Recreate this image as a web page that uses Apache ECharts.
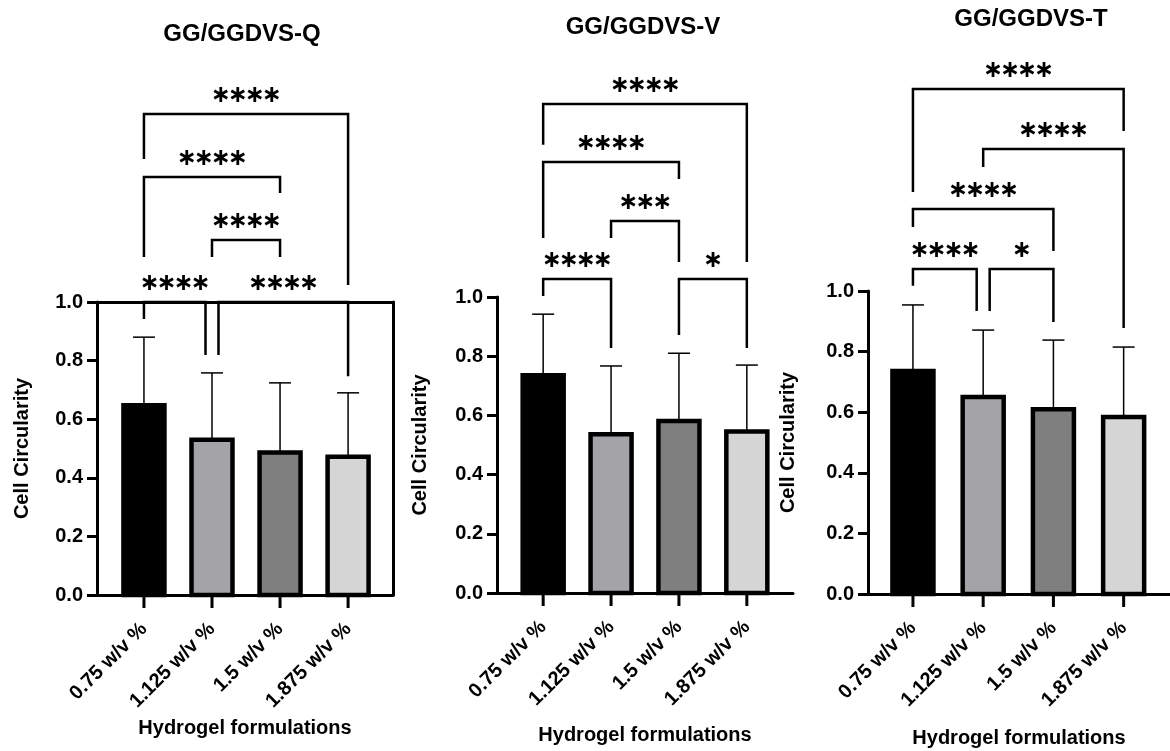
<!DOCTYPE html>
<html><head><meta charset="utf-8">
<script src="https://cdn.jsdelivr.net/npm/echarts@6/dist/echarts.min.js"></script>
<style>html,body{margin:0;padding:0;background:#fff}#c{width:1170px;height:751px}</style>
</head><body><div id="c"></div>
<script>
// ---------- data ----------
const categories = ['0.75 w/v %', '1.125 w/v %', '1.5 w/v %', '1.875 w/v %'];
const panelTitles = ['GG/GGDVS-Q', 'GG/GGDVS-V', 'GG/GGDVS-T'];
const xAxisTitle = 'Hydrogel formulations';
const yAxisTitle = 'Cell Circularity';
const yTicks = [0, 0.2, 0.4, 0.6, 0.8, 1.0];

const meanQ = [0.648, 0.530, 0.486, 0.472];
const sdQ   = [0.232, 0.228, 0.238, 0.218];
const meanV = [0.736, 0.536, 0.581, 0.546];
const sdV   = [0.206, 0.231, 0.229, 0.224];
const meanT = [0.736, 0.650, 0.610, 0.584];
const sdT   = [0.218, 0.221, 0.228, 0.231];

// significance brackets: [fromCat, toCat, level, leftLegEnd, rightLegEnd] (y values)
const bracketsQ = [[0, 3, 1.642, 1.488, 1.058], [0, 2, 1.427, 1.154, 1.372], [1, 2, 1.212, 1.154, 1.154], [0, 1, 1.0, 0.942, 0.819], [1, 3, 1.0, 0.819, 0.747]];
const starsQ = ['****', '****', '****', '****', '****'];
const bracketsV = [[0, 3, 1.652, 1.514, 1.118], [0, 2, 1.456, 1.199, 1.399], [1, 2, 1.257, 1.199, 1.118], [0, 1, 1.061, 1.003, 0.828], [2, 3, 1.061, 0.872, 0.828]];
const starsV = ['****', '****', '***', '****', '*'];
const bracketsT = [[0, 3, 1.667, 1.327, 1.528], [1, 3, 1.469, 1.409, 0.878], [0, 2, 1.271, 1.211, 1.132], [0, 1, 1.073, 1.017, 0.934], [1, 2, 1.073, 0.934, 0.898]];
const starsT = ['****', '****', '****', '****', '*'];

// ---------- layout & style ----------
const FONT = 'Liberation Sans, Arial, sans-serif';
const barColors = ['#000000', '#a4a4a8', '#7f7f7f', '#d5d5d5'];
const panels = [
  { mean: meanQ, sd: sdQ, br: bracketsQ, st: starsQ, left: 97, top: 302, width: 296, height: 293, xMin: -0.69, xMax: 3.66, tx: 242, ty: 34, xGap: 123, yGap: 65 },
  { mean: meanV, sd: sdV, br: bracketsV, st: starsV, left: 497, top: 297, width: 296, height: 296, xMin: -0.68, xMax: 3.68, tx: 643, ty: 27, xGap: 132, yGap: 67 },
  { mean: meanT, sd: sdT, br: bracketsT, st: starsT, left: 868, top: 291, width: 302, height: 303, xMin: -0.64, xMax: 3.66, tx: 1031, ty: 19, xGap: 134, yGap: 70 }
];
const catIdx = categories.map((c, i) => i);

const grids = [], xAxes = [], yAxes = [], series = [], graphics = [];
const AX = { color: '#000', width: 3 };

panels.forEach((p, g) => {
  grids.push({ left: p.left, top: p.top, width: p.width, height: p.height, containLabel: false, outerBoundsMode: 'none' });
  xAxes.push({
    type: 'value', gridIndex: g, min: p.xMin, max: p.xMax,
    splitLine: { show: false },
    axisLine: { show: true, onZero: false, lineStyle: AX },
    axisTick: { show: false },
    axisLabel: {
      customValues: catIdx, rotate: 45, margin: 31, color: '#000',
      fontFamily: FONT, fontWeight: 'bold', fontSize: 20,
      formatter: v => categories[Math.round(v)]
    },
    name: xAxisTitle, nameLocation: 'middle', nameGap: p.xGap,
    nameTextStyle: { color: '#000', fontFamily: FONT, fontWeight: 'bold', fontSize: 20 }
  });
  yAxes.push({
    type: 'value', gridIndex: g, min: 0, max: 1, interval: 0.2,
    splitLine: { show: false },
    axisLine: { show: true, onZero: false, lineStyle: AX },
    axisTick: { show: true, length: 10, lineStyle: AX },
    axisLabel: { margin: 14, color: '#000', fontFamily: FONT, fontWeight: 'bold', fontSize: 20,
      formatter: v => yTicks.includes(+v.toFixed(1)) ? v.toFixed(1) : '' },
    name: yAxisTitle, nameLocation: 'middle', nameGap: p.yGap,
    nameTextStyle: { color: '#000', fontFamily: FONT, fontWeight: 'bold', fontSize: 20 }
  });

  // bars with upper error bars and category ticks
  series.push({
    type: 'custom', xAxisIndex: g, yAxisIndex: g, clip: false, z: 3,
    data: p.mean.map((m, i) => [i, m, p.sd[i]]),
    renderItem: (params, api) => {
      const i = api.value(0), m = api.value(1), s = api.value(2);
      const base = api.coord([i, 0]), top = api.coord([i, m]), et = api.coord([i, m + s]);
      const w = 41;
      return { type: 'group', children: [
        { type: 'line', shape: { x1: base[0], y1: base[1], x2: base[0], y2: base[1] + 13 }, style: { stroke: '#000', lineWidth: 3 } },
        { type: 'line', shape: { x1: top[0], y1: top[1], x2: et[0], y2: et[1] }, style: { stroke: '#000', lineWidth: 1.5 } },
        { type: 'line', shape: { x1: et[0] - 11, y1: et[1], x2: et[0] + 11, y2: et[1] }, style: { stroke: '#000', lineWidth: 1.5 } },
        { type: 'rect', shape: { x: top[0] - w / 2, y: top[1], width: w, height: base[1] - top[1] },
          style: { fill: barColors[i], stroke: '#000', lineWidth: 4.5 } }
      ] };
    }
  });

  // significance brackets
  const brs = p.br;
  series.push({
    type: 'custom', xAxisIndex: g, yAxisIndex: g, clip: false, z: 5,
    data: brs.map(b => b.slice()),
    renderItem: (params, api) => {
      const k = params.dataIndex, b = brs[k];
      const shared = cat => brs.some((o, j) => j !== k && o[2] === b[2] && (o[0] === cat || o[1] === cat));
      const xl = api.coord([b[0], b[2]])[0] + (shared(b[0]) ? 6.5 : 0);
      const xr = api.coord([b[1], b[2]])[0] - (shared(b[1]) ? 6.5 : 0);
      const yl = api.coord([b[0], b[2]])[1];
      const yle = api.coord([b[0], b[3]])[1];
      const yre = api.coord([b[1], b[4]])[1];
      const n = p.st[k].length, step = 17, cx = (xl + xr) / 2;
      const kids = [
        { type: 'polyline', shape: { points: [[xl, yle], [xl, yl], [xr, yl], [xr, yre]] },
          style: { stroke: '#000', lineWidth: 2.5, fill: null } }
      ];
      for (let q = 0; q < n; q++) {
        kids.push({ type: 'text', x: cx + (q - (n - 1) / 2) * step, y: yl - 18,
          style: { text: '\u2217', fill: '#000', font: 'bold 24px DejaVu Sans', align: 'center', verticalAlign: 'middle', textAlign: 'center', textVerticalAlign: 'middle' } });
      }
      return { type: 'group', children: kids };
    }
  });

  graphics.push({ type: 'text', x: p.tx, y: p.ty,
    style: { text: panelTitles[g], fill: '#000', font: 'bold 24px ' + FONT, align: 'center', verticalAlign: 'middle', textAlign: 'center', textVerticalAlign: 'middle' } });
});

// frame (top & right) for first panel
xAxes.push({ type: 'value', gridIndex: 0, position: 'top', min: panels[0].xMin, max: panels[0].xMax,
  axisLine: { show: true, onZero: false, lineStyle: AX }, axisTick: { show: false }, axisLabel: { show: false }, splitLine: { show: false } });
yAxes.push({ type: 'value', gridIndex: 0, position: 'right', min: 0, max: 1,
  axisLine: { show: true, onZero: false, lineStyle: AX }, axisTick: { show: false }, axisLabel: { show: false }, splitLine: { show: false } });

const chart = echarts.init(document.getElementById('c'), null, { renderer: 'canvas' });
chart.setOption({
  animation: false,
  backgroundColor: '#fff',
  grid: grids, xAxis: xAxes, yAxis: yAxes, series: series, graphic: graphics
});
</script>
</body></html>
